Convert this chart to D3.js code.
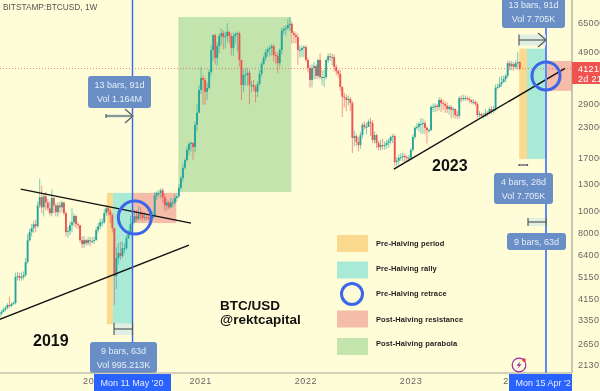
<!DOCTYPE html>
<html>
<head>
<meta charset="utf-8">
<script src="https://cdn.jsdelivr.net/npm/d3@7"></script>
<style>
  html, body { margin: 0; padding: 0; background: #fefdd8; overflow: hidden; }
  svg { display: block; font-family: "Liberation Sans", Arial, sans-serif; filter: blur(0.35px); }
  .tick text { fill: #666; font-size: 9px; letter-spacing: 0.3px; }
  .x-axis .tick text { letter-spacing: 0.6px; }
</style>
</head>
<body>
<svg id="chart"></svg>
<script>
// weekly candles, first bar is Mon 4 Feb 2019
const firstOpen = 3450;
const closes = [
  3550,3620,3700,3770,3880,3840,3920,3960,5130,5180,
  5080,5130,5230,5960,7420,8040,8370,8700,8530,10500,
  11400,10300,11500,10800,10200,9720,11300,10500,9810,10500,
  10300,10800,9720,8040,8120,8620,8870,9440,8700,8620,
  7420,7130,7420,7200,7420,7350,7350,7420,8200,8530,
  8870,8870,9720,10200,9900,9530,8370,5180,6200,6520,
  6330,6850,6850,7570,8040,8700,8870,9440,9150,9620,
  9530,9250,9340,9250,9150,9250,9440,11600,11900,11900,
  12200,11400,10500,10800,10300,10800,10800,11300,11500,12500,
  13800,15300,16500,18300,19400,19600,18800,23500,26500,33300,
  37500,36800,32700,34000,39800,49600,57600,45800,51600,57000,
  58800,56400,57000,59500,57000,50600,57000,58200,58800,44900,
  35000,38700,38700,39500,35000,35000,34300,32700,35300,39100,
  43100,45800,48600,50100,50600,51600,47200,46700,43500,49600,
  60200,61300,61800,63700,64400,58800,57600,56400,49600,49600,
  50600,51100,44900,41400,36800,41400,42200,38300,44900,37900,
  37900,37900,44900,46700,46200,46200,41900,40200,39100,34300,
  31100,30800,30100,30400,29200,20600,21000,19800,19200,21200,
  23500,23000,23000,24200,23900,20200,21200,19600,18800,19200,
  19000,19200,19600,20000,20800,21000,16200,16400,16900,17000,
  17200,17000,16900,16900,18300,20800,22800,23000,23700,23700,
  23900,22800,22300,22300,28100,28100,28400,28100,30100,29200,
  28900,28400,27500,28100,27300,27500,25900,25700,30700,30400,
  30700,30700,30400,30100,29500,29500,28900,25900,26200,25700,
  25700,26500,26300,27500,27000,27500,34000,34300,35300,36000,
  37100,38300,43500,42200,43100,41900,43500,44000,41215
];
const highs = [
  3680,3700,3780,3850,3950,4220,3990,4030,5360,5400,
  5350,5400,5430,6200,7900,8300,8700,9000,9100,10900,
  13700,12800,11800,12000,11200,10950,12300,11400,10700,10800,
  10900,11000,10900,9850,8480,8950,10200,9700,9550,8870,
  8640,7700,7750,7500,7680,7640,7650,7700,8450,8800,
  9200,9200,10100,10500,10480,10100,9700,8420,6900,7200,
  7300,7300,7200,7780,8200,9450,10000,10000,10000,10400,
  10300,9900,9800,9600,9500,9800,9900,12000,12100,12300,
  12450,12500,11800,11200,11000,11300,11200,11700,11900,13000,
  14100,15950,16800,18900,19800,19900,19700,24300,28800,35000,
  41900,38500,37700,35900,40800,52000,58000,58500,53500,58400,
  61500,60500,59500,64800,59900,58500,59000,59500,59800,59500,
  45000,40800,41300,41300,40700,36500,36700,35000,36300,40500,
  44000,47000,50000,51000,52000,52700,52500,48700,48300,50400,
  61800,62900,63500,67500,69000,66000,60000,59000,58500,51800,
  52000,52100,52000,46000,42500,43000,44000,43000,45500,47900,
  40500,40800,45500,48000,48200,47700,47500,42900,40700,40600,
  34500,32400,31900,31500,31000,29800,22200,21500,20800,21900,
  24000,24300,24000,24800,25200,24600,22000,21500,20000,20200,
  20400,19900,20300,20500,21100,21500,21400,17000,17500,17700,
  17800,17600,17300,17400,18600,21300,23200,23900,24200,25100,
  25000,24500,23200,22600,28600,29100,29100,28900,31000,30800,
  30200,29800,29400,28600,28600,28000,27700,27000,31300,31500,
  31800,31500,31200,31000,30300,30400,30100,29600,26900,26500,
  26400,27500,27000,28000,28400,28400,35200,35500,37900,38300,
  38500,39100,44500,44700,44400,44000,44800,48700,44300
];
const lows = [
  3400,3500,3600,3650,3720,3780,3800,3880,3900,4950,
  4950,4950,5000,5150,5850,7300,7700,7950,8050,8400,
  10200,9700,9400,10000,9950,9500,9400,9700,9400,9400,
  9700,9800,9500,7700,7600,7800,8000,8500,8350,8300,
  7250,6850,6850,7000,7050,7000,7150,7150,7400,8000,
  8300,8500,8700,9450,9500,8800,8000,3880,4550,5800,
  6100,6200,6500,6700,7500,8100,8200,8800,8900,9000,
  9100,8950,9000,9050,9050,9000,9100,9300,11100,11400,
  11300,10800,9900,10000,10100,10200,10300,10600,10900,11300,
  12300,13300,15000,16300,17300,18000,16500,17800,22000,27700,
  32000,28700,28800,30000,33500,38500,44500,43000,42500,48000,
  52000,50000,50500,53500,53000,47000,46800,53000,49000,42000,
  30000,32500,34700,34800,28800,32500,33000,29400,31000,34800,
  38000,42800,44500,46500,46600,47000,44300,43000,39500,42000,
  47500,58000,57300,60500,60000,53000,53000,53000,42700,46000,
  46300,46200,44000,39700,34000,34200,37000,37000,37200,37000,
  35000,34300,37000,43600,44400,42500,40000,38500,37600,33000,
  25400,28000,27000,28500,27000,17700,19000,19000,18000,18500,
  20500,22400,21300,23000,21000,19600,19500,18600,18200,18200,
  18300,18300,18500,18700,19300,19600,15500,15600,15800,16400,
  16300,16200,16300,16300,16500,18000,20300,22400,22000,21500,
  21500,21400,19500,21700,22000,26700,26600,26900,27200,26700,
  27200,26500,26500,26000,25000,25300,25000,24900,25000,29500,
  29800,29800,29900,29200,29000,28800,28400,25200,25300,25100,
  25000,25400,25500,26000,26200,26400,26900,33500,34000,34400,
  35800,36000,37500,40400,40500,40300,41000,40800,40500
];
const priceTicks = [65000, 49000, 29000, 23000, 17000, 13000, 10000, 8000, 6400, 5150, 4150, 3350, 2650, 2130];
const yearTicks = [2020, 2021, 2022, 2023, 2024];
const lastPrice = 41215;

// [from, to, price top, price bottom, colour]
const zones = [
  ['2020-02-12', '2020-03-04', 11900, 3200, '#fbd98f'],
  ['2020-03-04', '2020-05-11', 11900, 3200, '#a9ead6'],
  ['2020-05-11', '2020-10-10', 11900, 8800, '#f6bcaa'],
  ['2020-10-17', '2021-11-13', 69000, 12000, '#c3e4ac'],
  ['2024-01-13', '2024-02-09', 50300, 16700, '#fbd98f'],
  ['2024-02-09', '2024-04-15', 50300, 16700, '#a9ead6'],
  ['2024-04-15', '2024-07-14', 44500, 33000, '#f6bcaa']
];
const trendLines = [
  [['2019-04-19', 12360], ['2020-11-30', 8800]],
  [['2019-02-05', 3360], ['2020-11-23', 7060]],
  [['2022-11-04', 15100], ['2024-06-20', 41300]]
];
const halvingDates = ['2020-05-11', '2024-04-15'];
const retraces = [['2020-05-19', 9300, 16.5], ['2024-04-15', 38300, 14]];

const legendItems = ['Pre-Halving period', 'Pre-Halving rally', 'Pre-Halving retrace', 'Post-Halving resistance', 'Post-Halving parabola'];
const legendColors = ['#fbd98f', '#a9ead6', null, '#f6bcaa', '#c3e4ac'];

const width = 600, height = 391;
const plotRight = 572, plotBottom = 373;
const green = '#26a69a', red = '#ef5350', blue = '#2962ff', note = '#6a8fc6', ink = '#55595c';

const parse = d3.utcParse('%Y-%m-%d');
const x = d3.scaleUtc().domain([parse('2020-05-11'), parse('2024-04-15')]).range([132.5, 546]);
const y = d3.scaleLog().domain([65000, 2130]).range([23, 365]);

const svg = d3.select('#chart').attr('width', width).attr('height', height).attr('viewBox', `0 0 ${width} ${height}`);

svg.append('rect').attr('width', width).attr('height', height).attr('fill', '#fefdd8');

const clip = svg.append('clipPath').attr('id', 'plot');
clip.append('rect').attr('width', plotRight).attr('height', plotBottom);
const g = svg.append('g').attr('clip-path', 'url(#plot)');

// Zones
g.selectAll('.zone').data(zones).join('rect')
  .attr('class', 'zone')
  .attr('x', d => x(parse(d[0])))
  .attr('y', d => y(d[2]))
  .attr('width', d => x(parse(d[1])) - x(parse(d[0])))
  .attr('height', d => y(d[3]) - y(d[2]))
  .attr('fill', d => d[4]);

// Last price line
g.append('line')
  .attr('x1', 0).attr('x2', plotRight)
  .attr('y1', y(lastPrice)).attr('y2', y(lastPrice))
  .attr('stroke', red).attr('stroke-width', 0.7).attr('stroke-dasharray', '1 2');

// Candles
const start = parse('2019-02-04');
const bars = closes.map((c, i) => ({
  date: d3.utcMonday.offset(start, i),
  open: i ? closes[i - 1] : firstOpen,
  close: c,
  high: highs[i],
  low: lows[i]
}));
const candle = g.selectAll('.candle').data(bars).join('g')
  .attr('class', 'candle')
  .attr('fill', d => d.close >= d.open ? green : red)
  .attr('stroke', d => d.close >= d.open ? green : red);
candle.append('line')
  .attr('x1', d => x(d.date)).attr('x2', d => x(d.date))
  .attr('y1', d => y(d.high)).attr('y2', d => y(d.low))
  .attr('stroke-width', 0.8).attr('stroke-opacity', 0.75);
candle.append('rect')
  .attr('x', d => x(d.date) - 0.95)
  .attr('width', 1.9)
  .attr('y', d => y(Math.max(d.open, d.close)))
  .attr('height', d => Math.max(1, Math.abs(y(d.open) - y(d.close))))
  .attr('stroke', 'none');

// Trend lines
g.selectAll('.trend').data(trendLines).join('line')
  .attr('class', 'trend')
  .attr('x1', d => x(parse(d[0][0]))).attr('y1', d => y(d[0][1]))
  .attr('x2', d => x(parse(d[1][0]))).attr('y2', d => y(d[1][1]))
  .attr('stroke', '#111').attr('stroke-width', 1.4);

// Halving lines
g.selectAll('.halving').data(halvingDates).join('line')
  .attr('class', 'halving')
  .attr('x1', d => x(parse(d))).attr('x2', d => x(parse(d)))
  .attr('y1', 0).attr('y2', plotBottom)
  .attr('stroke', (d, i) => i ? '#5f88f5' : '#3566ee')
  .attr('stroke-width', (d, i) => i ? 2 : 1.4);

// Retrace circles
g.selectAll('.retrace').data(retraces).join('circle')
  .attr('class', 'retrace')
  .attr('cx', d => x(parse(d[0]))).attr('cy', d => y(d[1])).attr('r', d => d[2])
  .attr('fill', 'none').attr('stroke', '#3b66e8').attr('stroke-width', 3);

// Date range measures
function measure(x0, x1, yMid, halfH, arrow) {
  svg.append('rect').attr('x', x0).attr('y', yMid - halfH).attr('width', x1 - x0).attr('height', halfH * 2)
    .attr('fill', '#d9ebe6').attr('opacity', 0.8);
  svg.append('line').attr('x1', x0).attr('x2', x1).attr('y1', yMid).attr('y2', yMid)
    .attr('stroke', ink).attr('stroke-width', 1.2);
  svg.append('line').attr('x1', x0).attr('x2', x0).attr('y1', yMid - halfH).attr('y2', yMid + halfH)
    .attr('stroke', ink).attr('stroke-width', 1.2);
  if (arrow) {
    svg.append('path').attr('d', `M${x1 - 8},${yMid - 7}L${x1},${yMid}L${x1 - 8},${yMid + 7}`)
      .attr('fill', 'none').attr('stroke', ink).attr('stroke-width', 1.2);
  } else {
    svg.append('line').attr('x1', x1).attr('x2', x1).attr('y1', yMid - halfH).attr('y2', yMid + halfH)
      .attr('stroke', ink).attr('stroke-width', 1.2);
  }
}
measure(106, 133, 116, 2, true);
measure(114, 132.5, 329, 6, false);
measure(519, 546, 40, 5.5, true);
measure(519, 527.5, 165, 1, false);
measure(528, 546, 222, 4, false);

// Measure notes
function noteBox(x0, y0, w, h, lines) {
  svg.append('rect').attr('x', x0).attr('y', y0).attr('width', w).attr('height', h).attr('rx', 3).attr('fill', note);
  lines.forEach((t, i) => {
    svg.append('text')
      .attr('x', x0 + w / 2)
      .attr('y', y0 + (lines.length > 1 ? 12 + i * 14 : 12))
      .attr('text-anchor', 'middle')
      .attr('font-size', '9px')
      .attr('fill', '#e6edf8')
      .text(t);
  });
}
noteBox(88, 76, 63, 32, ['13 bars, 91d', 'Vol 1.164M']);
noteBox(90, 342, 67, 31, ['9 bars, 63d', 'Vol 995.213K']);
noteBox(502, -4, 63, 32, ['13 bars, 91d', 'Vol 7.705K']);
noteBox(494, 173, 59, 31, ['4 bars, 28d', 'Vol 7.705K']);
noteBox(507, 233, 59, 17, ['9 bars, 63d']);

// Axes; the date labels hide part of 2020 and 2024, only the visible digits are drawn
const xAxis = d3.axisBottom(x)
  .tickValues(yearTicks.map(d => new Date(Date.UTC(d, 0, 1))))
  .tickFormat(d3.utcFormat('%Y'))
  .tickSize(0).tickPadding(5);
svg.append('g').attr('class', 'x-axis').attr('transform', `translate(0,${plotBottom})`).call(xAxis)
  .call(a => a.select('.domain').remove())
  .call(a => a.selectAll('.tick text').each(function(d) {
    const year = d.getUTCFullYear();
    if (year === 2020) d3.select(this).text('20').attr('text-anchor', 'end').attr('dx', -1);
    if (year === 2024) d3.select(this).text('2').attr('text-anchor', 'end').attr('dx', -7.5);
  }));
svg.append('line').attr('x1', 0).attr('x2', plotRight).attr('y1', plotBottom).attr('y2', plotBottom)
  .attr('stroke', '#a3a39a').attr('stroke-width', 1.2);

const yAxis = d3.axisRight(y).tickValues(priceTicks).tickFormat(d3.format('d')).tickSize(0).tickPadding(6);
svg.append('g').attr('transform', `translate(${plotRight},0)`).call(yAxis)
  .call(a => a.select('.domain').remove());
svg.append('line').attr('x1', plotRight).attr('x2', plotRight).attr('y1', 0).attr('y2', plotBottom)
  .attr('stroke', '#a3a39a').attr('stroke-width', 1.2);

// Price label
svg.append('rect').attr('x', plotRight).attr('y', 62).attr('width', 28).attr('height', 22).attr('fill', red);
svg.append('text').attr('x', 578).attr('y', 71.5).attr('font-size', '9px').attr('letter-spacing', '0.3px').attr('fill', '#fff').text(lastPrice);
svg.append('text').attr('x', 578).attr('y', 81.5).attr('font-size', '9px').attr('letter-spacing', '0.3px').attr('fill', '#fff').text('2d 21h');

// Date labels
function dateLabel(x0, w, label) {
  svg.append('rect').attr('x', x0).attr('y', 374).attr('width', w).attr('height', 17).attr('fill', blue);
  svg.append('text').attr('x', x0 + 6.5).attr('y', 386).attr('font-size', '9px').attr('fill', '#e8eeff').text(label);
}
dateLabel(94, 77, "Mon 11 May '20");
dateLabel(509, 63, "Mon 15 Apr '2");

// Title
svg.append('text').attr('x', 3).attr('y', 9.5).attr('font-size', '8.3px').attr('fill', '#555').text('BITSTAMP:BTCUSD, 1W');

// Captions
svg.append('text').attr('x', 33).attr('y', 346).attr('font-size', '16px').attr('font-weight', '700').attr('fill', '#111').text('2019');
svg.append('text').attr('x', 432).attr('y', 171).attr('font-size', '16px').attr('font-weight', '700').attr('fill', '#111').text('2023');
svg.append('text').attr('x', 220).attr('y', 310).attr('font-size', '13.5px').attr('font-weight', '700').attr('fill', '#111').text('BTC/USD');
svg.append('text').attr('x', 220).attr('y', 324).attr('font-size', '13.5px').attr('font-weight', '700').attr('fill', '#111').text('@rektcapital');

// Legend
const legendY = [243.5, 270, 294, 319, 346.5];
legendItems.forEach((t, i) => {
  if (legendColors[i]) {
    svg.append('rect').attr('x', 337).attr('y', legendY[i] - 8.5).attr('width', 31).attr('height', 17).attr('fill', legendColors[i]);
  } else {
    svg.append('circle').attr('cx', 352).attr('cy', legendY[i]).attr('r', 10.5).attr('fill', 'none').attr('stroke', '#3b66e8').attr('stroke-width', 3);
  }
  svg.append('text')
    .attr('x', 376)
    .attr('y', [245.5, 270.5, 296, 321.5, 346][i])
    .attr('font-size', '7.5px')
    .attr('font-weight', '700')
    .attr('letter-spacing', '0.1px')
    .attr('fill', '#222')
    .text(t);
});

// Lightning badge
const badge = svg.append('g').attr('transform', 'translate(519,365)');
badge.append('circle').attr('r', 6.8).attr('fill', 'none').attr('stroke', '#9c27b0').attr('stroke-width', 1.2);
badge.append('path').attr('d', 'M1.5,-4L-2.5,0.8H0L-1.5,4L2.5,-0.8H0Z').attr('fill', '#9c27b0');
badge.append('circle').attr('cx', 5).attr('cy', -5).attr('r', 1.8).attr('fill', '#ef3340');
</script>
</body>
</html>
